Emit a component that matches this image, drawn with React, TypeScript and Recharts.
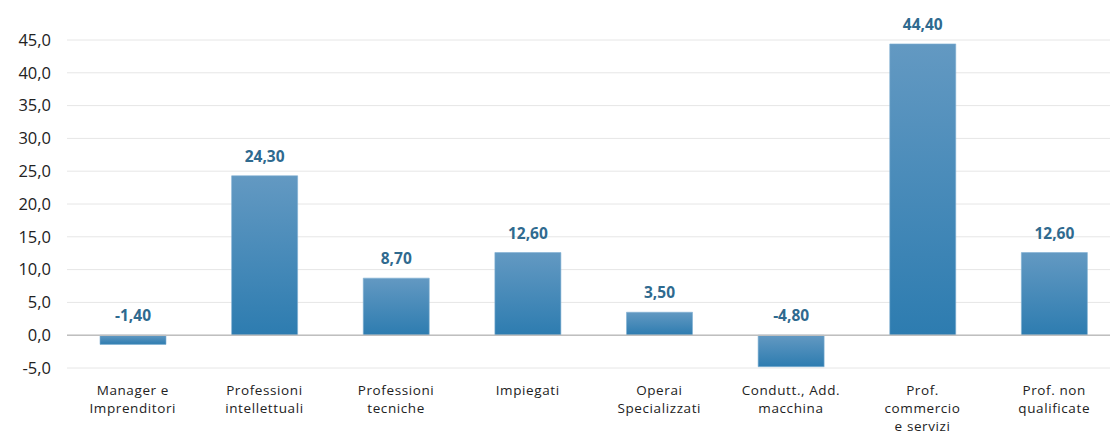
import { BarChart, Bar, XAxis, YAxis, CartesianGrid, ReferenceLine, LabelList } from "recharts";

const categories = [
  "Manager e\nImprenditori",
  "Professioni\nintellettuali",
  "Professioni\ntecniche",
  "Impiegati",
  "Operai\nSpecializzati",
  "Condutt., Add.\nmacchina",
  "Prof.\ncommercio\ne servizi",
  "Prof. non\nqualificate",
];
const values = [-1.4, 24.3, 8.7, 12.6, 3.5, -4.8, 44.4, 12.6];
const yTicks = [-5, 0, 5, 10, 15, 20, 25, 30, 35, 40, 45];

const data = categories.map((c, i) => ({ name: c, value: values[i] }));

const FONT = "'Open Sans', sans-serif";
const fmt = (v: number, d: number) => v.toFixed(d).replace(".", ",");

function XTick({ x, y, payload }: any) {
  const lines = String(payload.value).split("\n");
  return (
    <text
      x={x}
      y={y}
      textAnchor="middle"
      fill="#222"
      fontSize={13.5}
      letterSpacing={0.6}
      fontFamily={FONT}
    >
      {lines.map((l, i) => (
        <tspan key={i} x={x} dy={i === 0 ? 18.5 : 18}>
          {l}
        </tspan>
      ))}
    </text>
  );
}

function ValueLabel({ x, y, width, height, value }: any) {
  // labels sit above the upper edge of the bar (zero line for negatives)
  const top = Math.min(y, y + height);
  return (
    <text
      x={x + width / 2}
      y={top - 14}
      textAnchor="middle"
      fill="#2f6a8f"
      fontSize={15.5}
      fontWeight="bold"
      fontFamily={FONT}
    >
      {fmt(value, 2)}
    </text>
  );
}

export default function App() {
  return (
    <div
      style={{
        position: "absolute",
        left: 0,
        top: 0,
        width: 1110,
        height: 434,
        overflow: "hidden",
        background: "#fff",
      }}
    >
      <BarChart
        width={1125}
        height={434}
        data={data}
        margin={{ top: 40, right: 5, left: 11, bottom: 6 }}
      >
        <defs>
          <linearGradient id="barFill" x1="0" y1="0" x2="0" y2="1">
            <stop offset="0%" stopColor="#6399c2" />
            <stop offset="100%" stopColor="#2d7cb0" />
          </linearGradient>
        </defs>
        <CartesianGrid vertical={false} stroke="#e6e6e6" />
        <XAxis
          dataKey="name"
          axisLine={false}
          tickLine={false}
          interval={0}
          height={60}
          tick={<XTick />}
        />
        <YAxis
          domain={[-5, 45]}
          ticks={yTicks}
          axisLine={false}
          tickLine={false}
          tickSize={0}
          tickMargin={16}
          width={56}
          tickFormatter={(v: number) => fmt(v, 1)}
          tick={{ fill: "#222", fontSize: 16.5, fontFamily: FONT }}
        />
        <ReferenceLine y={0} stroke="#bfbfbf" strokeWidth={1.5} />
        <Bar
          dataKey="value"
          fill="url(#barFill)"
          stroke="#7fb0d3"
          strokeWidth={0.6}
          barSize={66}
          isAnimationActive={false}
        >
          <LabelList dataKey="value" content={<ValueLabel />} />
        </Bar>
      </BarChart>
    </div>
  );
}
